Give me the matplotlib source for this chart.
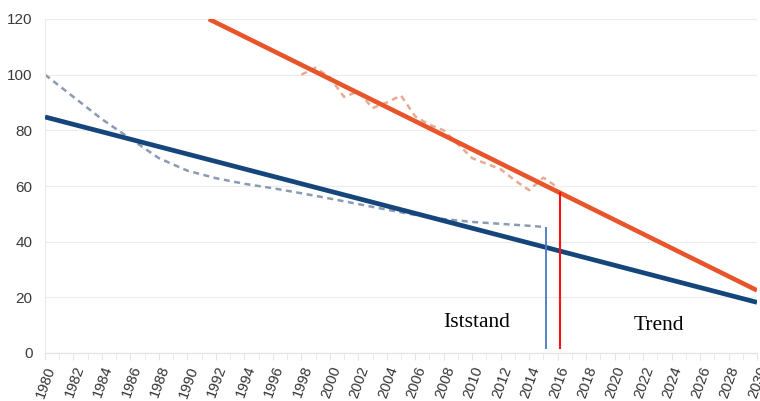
import matplotlib
matplotlib.use("Agg")
import matplotlib.pyplot as plt
import numpy as np

# Data
blue_years = [1980, 1982, 1984, 1986, 1988, 1990, 1992, 1994, 1996, 1998, 2000,
              2002, 2004, 2006, 2008, 2010, 2012, 2014, 2015]
blue_values = [100, 92, 84, 77, 70, 65.5, 62.8, 60.8, 59.2, 57.4, 55.5,
               53.5, 51.5, 49.6, 48.1, 47.1, 46.4, 45.7, 45.3]

orange_years = list(range(1998, 2017))
orange_values = [100, 102.5, 99, 92, 94, 88, 90, 92.5, 85, 82, 80, 75, 70, 68,
                 66, 62, 58.5, 63, 59.5]

blue_trend_years = [1980, 2030]
blue_trend_values = [84.8, 18.2]
orange_trend_years = [1991.5, 2030]
orange_trend_values = [120, 22.5]

marker_blue = (2015.2, 1.5, 45.3)
marker_red = (2016.2, 1.5, 58.0)

label_left = "Iststand"
label_right = "Trend"
x_ticks = list(range(1980, 2031, 2))
y_ticks = [0, 20, 40, 60, 80, 100, 120]

fig = plt.figure(figsize=(7.6, 4.01), dpi=100)
ax = fig.add_axes([45/760, 48/401, 712/760, 334/401])

ax.plot(blue_years, blue_values, color="#8a9bb3", lw=1.8, ls=(0, (2.4, 1.8)), zorder=2)
ax.plot(orange_years, orange_values, color="#e6ab93", lw=1.8, ls=(0, (2.4, 1.8)), zorder=2)
ax.plot(blue_trend_years, blue_trend_values, color="#14467c", lw=3.4, solid_capstyle="butt", zorder=3)
ax.plot(orange_trend_years, orange_trend_values, color="#e8552a", lw=3.3, solid_capstyle="butt", zorder=3)

ax.vlines(marker_blue[0], marker_blue[1], marker_blue[2], color="#4a78c4", lw=1.3, zorder=4)
ax.vlines(marker_red[0], marker_red[1], marker_red[2], color="#ff1010", lw=1.5, zorder=4)

ax.text(2010.3, 10.8, label_left, family="Liberation Serif", fontsize=15.5,
        ha="center", va="center", color="black")
ax.text(2023.1, 10.0, label_right, family="Liberation Serif", fontsize=15.5,
        ha="center", va="center", color="black")

ax.set_xlim(1980, 2030)
ax.set_ylim(0, 120)
ax.set_yticks(y_ticks)
ax.set_xticks(x_ticks)
ax.set_xticks(range(1980, 2031), minor=True)
ax.set_xticklabels([str(y) for y in x_ticks], rotation=70, ha="right",
                   rotation_mode="anchor", fontsize=10.5, color="#333333",
                   family="Liberation Sans")
ax.set_yticklabels([str(v) for v in y_ticks], fontsize=11, color="#3a3a3a",
                   family="Liberation Sans")
ax.tick_params(axis="x", which="both", length=5, color="#e6e6e6", pad=3)
ax.tick_params(axis="y", length=0, pad=9)

ax.grid(axis="y", color="#ececec", lw=0.8)
ax.set_axisbelow(True)
for s in ["top", "right"]:
    ax.spines[s].set_visible(False)
ax.spines["left"].set_color("#ececec")
ax.spines["bottom"].set_color("#e2e2e2")

fig.savefig("out.png", dpi=100)
